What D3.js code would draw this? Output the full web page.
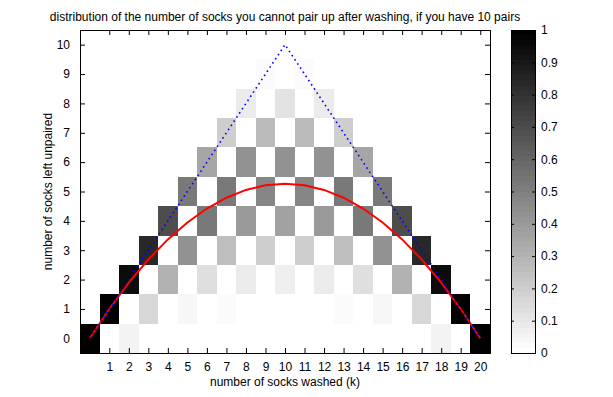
<!DOCTYPE html>
<html>
<head>
<meta charset="utf-8">
<script src="https://cdn.jsdelivr.net/npm/d3@7"></script>
<style>
  body { margin: 0; background: #fff; }
  svg text { font-family: "Liberation Sans", Arial, sans-serif; font-size: 12px; fill: #000; }
</style>
</head>
<body>
<svg id="chart" width="613" height="397"></svg>
<script>
// number of socks washed (k), one column each
const washed = d3.range(0, 21);
// number left unpaired (rows)
const unpaired = d3.range(0, 11);

// probability of each unpaired count, columns k = 0..20, entries j = 0..10
const prob = [
  [1, 0, 0, 0, 0, 0, 0, 0, 0, 0, 0],
  [0, 1, 0, 0, 0, 0, 0, 0, 0, 0, 0],
  [0.0526, 0, 0.9474, 0, 0, 0, 0, 0, 0, 0, 0],
  [0, 0.1579, 0, 0.8421, 0, 0, 0, 0, 0, 0, 0],
  [0.0093, 0, 0.2972, 0, 0.6935, 0, 0, 0, 0, 0, 0],
  [0, 0.0464, 0, 0.4334, 0, 0.5201, 0, 0, 0, 0, 0],
  [0.0031, 0, 0.1300, 0, 0.5201, 0, 0.3467, 0, 0, 0, 0],
  [0, 0.0217, 0, 0.2601, 0, 0.5201, 0, 0.1981, 0, 0, 0],
  [0.0017, 0, 0.0800, 0, 0.4001, 0, 0.4268, 0, 0.0915, 0, 0],
  [0, 0.0150, 0, 0.2000, 0, 0.4801, 0, 0.2744, 0, 0.0305, 0],
  [0.0014, 0, 0.0682, 0, 0.3637, 0, 0.4365, 0, 0.1247, 0, 0.0055],
  [0, 0.0150, 0, 0.2000, 0, 0.4801, 0, 0.2744, 0, 0.0305, 0],
  [0.0017, 0, 0.0800, 0, 0.4001, 0, 0.4268, 0, 0.0915, 0, 0],
  [0, 0.0217, 0, 0.2601, 0, 0.5201, 0, 0.1981, 0, 0, 0],
  [0.0031, 0, 0.1300, 0, 0.5201, 0, 0.3467, 0, 0, 0, 0],
  [0, 0.0464, 0, 0.4334, 0, 0.5201, 0, 0, 0, 0, 0],
  [0.0093, 0, 0.2972, 0, 0.6935, 0, 0, 0, 0, 0, 0],
  [0, 0.1579, 0, 0.8421, 0, 0, 0, 0, 0, 0, 0],
  [0.0526, 0, 0.9474, 0, 0, 0, 0, 0, 0, 0, 0],
  [0, 1, 0, 0, 0, 0, 0, 0, 0, 0, 0],
  [1, 0, 0, 0, 0, 0, 0, 0, 0, 0, 0]
];

// expected number unpaired (red line)
const expected = [0, 1, 1.895, 2.684, 3.368, 3.947, 4.421, 4.789, 5.053, 5.211, 5.263,
                  5.211, 5.053, 4.789, 4.421, 3.947, 3.368, 2.684, 1.895, 1, 0];
// largest possible number unpaired (blue dotted)
const maxUnpaired = [0, 1, 2, 3, 4, 5, 6, 7, 8, 9, 10, 9, 8, 7, 6, 5, 4, 3, 2, 1, 0];

const xTicks = d3.range(1, 21);
const yTicks = d3.range(0, 11);
const cbTicks = [0, 0.1, 0.2, 0.3, 0.4, 0.5, 0.6, 0.7, 0.8, 0.9, 1];

const titleText = "distribution of the number of socks you cannot pair up after washing, if you have 10 pairs";

const svg = d3.select("#chart");
const plot = { left: 80, right: 490, top: 30, bottom: 353 };
const cb = { left: 511, right: 535 };

const x = d3.scaleLinear().domain([-0.5, 20.5]).range([plot.left, plot.right]);
const y = d3.scaleLinear().domain([-0.5, 10.5]).range([plot.bottom, plot.top]);

// flipped 64-level gray map, 1 = black
const nLevels = 64;
function shade(v) {
  const idx = Math.min(Math.floor(v * nLevels), nLevels - 1);
  const g = Math.round(255 * (1 - idx / (nLevels - 1)));
  return d3.rgb(g, g, g).toString();
}

// cells
const cells = [];
washed.forEach(k => unpaired.forEach(j => cells.push({ k, j, v: prob[k][j] })));

svg.append("g")
  .selectAll("rect")
  .data(cells)
  .join("rect")
  .attr("x", d => x(d.k - 0.5))
  .attr("y", d => y(d.j + 0.5))
  .attr("width", d => x(d.k + 0.5) - x(d.k - 0.5))
  .attr("height", d => y(d.j - 0.5) - y(d.j + 0.5))
  .attr("fill", d => shade(d.v))
  .attr("shape-rendering", "crispEdges");

// lines
const line = d3.line().x((d, i) => x(washed[i])).y(d => y(d));

svg.append("path")
  .datum(expected)
  .attr("d", line)
  .attr("fill", "none")
  .attr("stroke", "#ff0000")
  .attr("stroke-width", 2);

svg.append("path")
  .datum(maxUnpaired)
  .attr("d", line)
  .attr("fill", "none")
  .attr("stroke", "#0000ff")
  .attr("stroke-width", 1.6)
  .attr("stroke-dasharray", "1.6,3.4");

// axes, ticks pointing inward on all four sides
const tickLen = 5;
const gx = svg.append("g").attr("transform", `translate(0,${plot.bottom})`)
  .call(d3.axisBottom(x).tickValues(xTicks).tickSizeInner(-tickLen).tickSizeOuter(0).tickPadding(tickLen + 4));
const gxTop = svg.append("g").attr("transform", `translate(0,${plot.top})`)
  .call(d3.axisTop(x).tickValues(xTicks).tickSizeInner(-tickLen).tickSizeOuter(0).tickFormat(""));
const gy = svg.append("g").attr("transform", `translate(${plot.left},0)`)
  .call(d3.axisLeft(y).tickValues(yTicks).tickSizeInner(-tickLen).tickSizeOuter(0).tickPadding(tickLen + 5));
const gyRight = svg.append("g").attr("transform", `translate(${plot.right},0)`)
  .call(d3.axisRight(y).tickValues(yTicks).tickSizeInner(-tickLen).tickSizeOuter(0).tickFormat(""));

[gx, gxTop, gy, gyRight].forEach(g => {
  g.select(".domain").remove();
  g.selectAll("line").attr("stroke", "#000");
  g.selectAll("text").attr("font-size", null).attr("font-family", null);
});

svg.append("rect")
  .attr("x", plot.left).attr("y", plot.top)
  .attr("width", plot.right - plot.left).attr("height", plot.bottom - plot.top)
  .attr("fill", "none").attr("stroke", "#000").attr("stroke-width", 1)
  .attr("shape-rendering", "crispEdges");

// colorbar
const cy = d3.scaleLinear().domain([0, 1]).range([plot.bottom, plot.top]);
svg.append("g")
  .selectAll("rect")
  .data(d3.range(nLevels))
  .join("rect")
  .attr("x", cb.left)
  .attr("y", i => cy((i + 1) / nLevels))
  .attr("width", cb.right - cb.left)
  .attr("height", i => cy(i / nLevels) - cy((i + 1) / nLevels))
  .attr("fill", i => shade(i / nLevels))
  .attr("shape-rendering", "crispEdges");

const gcb = svg.append("g").attr("transform", `translate(${cb.right},0)`)
  .call(d3.axisRight(cy).tickValues(cbTicks).tickSizeInner(-3).tickSizeOuter(0).tickPadding(6).tickFormat(d3.format("")));
const gcbLeft = svg.append("g").attr("transform", `translate(${cb.left},0)`)
  .call(d3.axisLeft(cy).tickValues(cbTicks).tickSizeInner(-3).tickSizeOuter(0).tickFormat(""));
[gcb, gcbLeft].forEach(g => {
  g.select(".domain").remove();
  g.selectAll("line").attr("stroke", "#000");
  g.selectAll("text").attr("font-size", null).attr("font-family", null);
});

svg.append("rect")
  .attr("x", cb.left).attr("y", plot.top)
  .attr("width", cb.right - cb.left).attr("height", plot.bottom - plot.top)
  .attr("fill", "none").attr("stroke", "#000")
  .attr("shape-rendering", "crispEdges");

// labels
svg.append("text")
  .attr("x", (plot.left + plot.right) / 2).attr("y", 21)
  .attr("text-anchor", "middle")
  .text(titleText);

svg.append("text")
  .attr("x", (plot.left + plot.right) / 2).attr("y", 386)
  .attr("text-anchor", "middle")
  .text("number of socks washed (k)");

svg.append("text")
  .attr("transform", `translate(52,${(plot.top + plot.bottom) / 2}) rotate(-90)`)
  .attr("text-anchor", "middle")
  .text("number of socks left unpaired");
</script>
</body>
</html>
